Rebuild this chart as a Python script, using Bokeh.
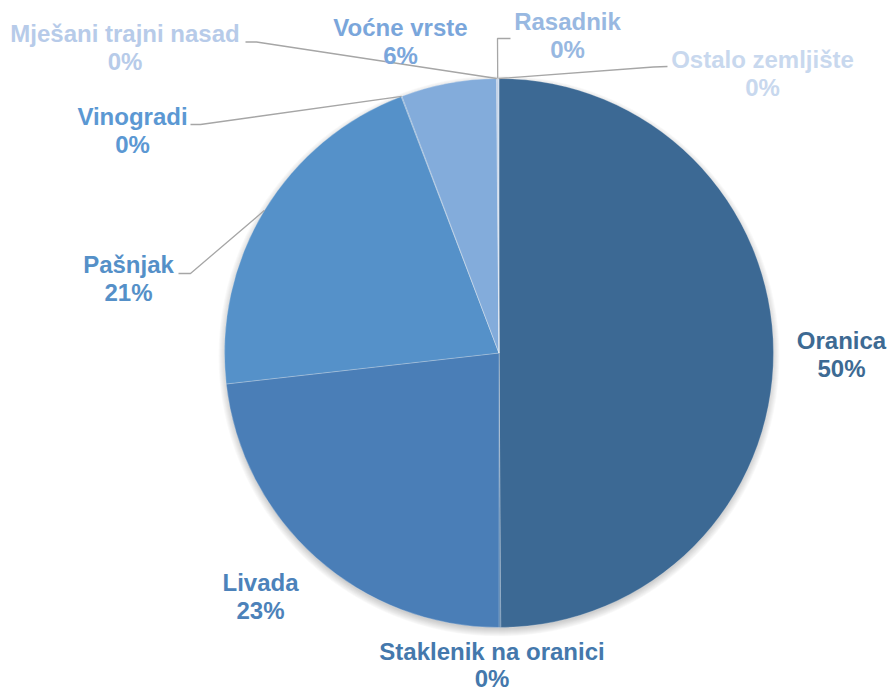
import numpy as np
from bokeh.plotting import figure
from bokeh.models import Range1d, ColumnDataSource
from bokeh.core.properties import value
from bokeh.embed import file_html
from bokeh.resources import INLINE

# ---- data (clockwise from 12 o'clock) ----
categories = ["Oranica", "Staklenik na oranici", "Livada", "Pašnjak", "Vinogradi",
              "Voćne vrste", "Mješani trajni nasad", "Rasadnik", "Ostalo zemljište"]
shares = [49.9, 0.1, 23.2, 21.0, 0.05, 5.6, 0.05, 0.05, 0.05]

# ---- styles ----
slice_colors = ["#3C6994", "#4374A5", "#4A7EB7", "#5591C9", "#6A9FD3",
                "#83ACDB", "#A3C0E4", "#9AB9E2", "#C3D5EE"]
label_colors = ["#3D6A93", "#4478AC", "#4C82BA", "#5590C8", "#5B98D3",
                "#7AA6DB", "#B7CBE9", "#98B8E1", "#C8D8EE"]

W, H = 887, 692          # reference frame in pixels
cx, cy, R = 498.5, H - 352.5, 274.5
TEXT_SHIFT = 9           # compensates svg baseline placement

# label layout in reference pixel coords: (center x, baseline line1, baseline line2)
label_layout = {
    "Oranica": (841, 349, 377),
    "Staklenik na oranici": (491.5, 659.5, 687),
    "Livada": (260, 591, 619),
    "Pašnjak": (128, 272.5, 301),
    "Vinogradi": (132, 125, 153),
    "Voćne vrste": (400, 36, 64),
    "Mješani trajni nasad": (124.5, 42, 69.5),
    "Rasadnik": (567, 30, 58),
    "Ostalo zemljište": (762, 68, 96),
}
# leader line label-side points (reference pixel coords)
leader_layout = {
    "Mješani trajni nasad": [(245, 41.5), (256, 41.5)],
    "Vinogradi": [(190, 124), (200, 124)],
    "Pašnjak": [(178, 273), (190, 273)],
    "Rasadnik": [(510, 38), (497, 38)],
    "Ostalo zemljište": [(667, 66), (653, 66.5)],
}

total = sum(shares)
frac = np.array(shares) / total
cum_end = np.cumsum(frac)
cum_start = cum_end - frac
start_angle = np.pi / 2 - 2 * np.pi * cum_start
end_angle = np.pi / 2 - 2 * np.pi * cum_end
mid = 2 * np.pi * (cum_start + cum_end) / 2
pct_labels = [f"{round(v / total * 100):.0f}%" for v in shares]

p = figure(width=W, height=H, x_range=Range1d(0, W), y_range=Range1d(0, H),
           output_backend="svg", toolbar_location=None, min_border=0)
p.axis.visible = False
p.grid.visible = False
p.outline_line_color = None
p.background_fill_color = "white"
p.border_fill_color = "white"

# soft shadow
for k in range(9):
    p.circle(x=[cx], y=[cy - 3], radius=R - 2 + k, fill_color="black",
             fill_alpha=0.025, line_color=None)

src = ColumnDataSource(dict(start=start_angle, end=end_angle, color=slice_colors))
p.wedge(x=cx, y=cy, radius=R, start_angle="start", end_angle="end", direction="clock",
        fill_color="color", line_color="white", line_width=0.4, line_alpha=0.6, source=src)

# leader lines
for i, name in enumerate(categories):
    if name in leader_layout:
        pts = leader_layout[name]
        ex = cx + R * np.sin(mid[i])
        ey = cy + R * np.cos(mid[i])
        xs = [pt[0] for pt in pts] + [ex]
        ys = [H - pt[1] for pt in pts] + [ey]
        p.line(xs, ys, line_color="#A6A6A6", line_width=1.3)

# labels
lx, ly1, ly2 = [], [], []
for name in categories:
    x, b1, b2 = label_layout[name]
    lx.append(x); ly1.append(H - b1 + TEXT_SHIFT); ly2.append(H - b2 + TEXT_SHIFT)
lsrc = ColumnDataSource(dict(x=lx, y1=ly1, y2=ly2, name=categories, pct=pct_labels, color=label_colors))
common = dict(text_font=value("Liberation Sans"), text_font_style="bold", text_font_size="24px",
              text_align="center", text_baseline="alphabetic", text_color="color", source=lsrc)
p.text(x="x", y="y1", text="name", **common)
p.text(x="x", y="y2", text="pct", **common)

open("out.html", "w").write(file_html(p, INLINE))
